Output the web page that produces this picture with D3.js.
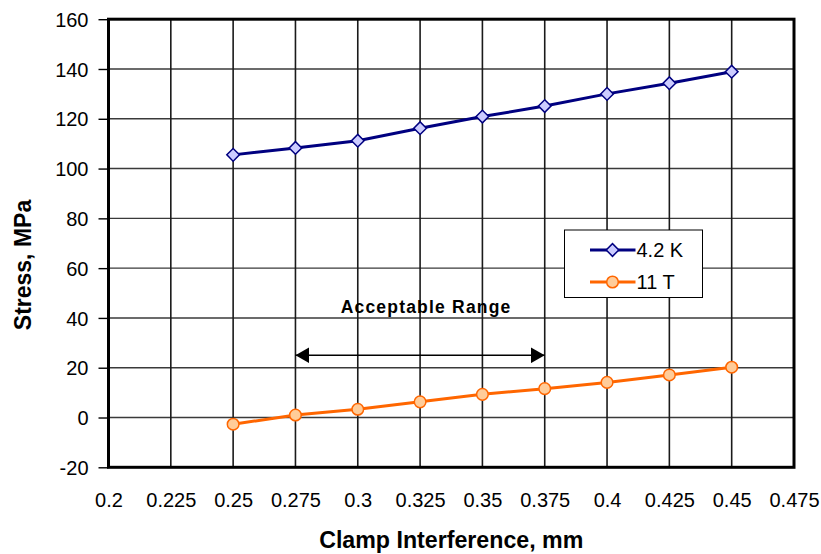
<!DOCTYPE html>
<html>
<head>
<meta charset="utf-8">
<script src="https://cdn.jsdelivr.net/npm/d3@7"></script>
<style>
  html, body { margin: 0; padding: 0; background: #fff; }
  svg { display: block; font-family: "Liberation Sans", Arial, sans-serif; }
</style>
</head>
<body>
<svg id="chart" width="821" height="554"></svg>
<script>
// Clamp interference (mm) vs. stress (MPa)
const interference = [0.25, 0.275, 0.3, 0.325, 0.35, 0.375, 0.4, 0.425, 0.45];
const stress42K = [105.5, 108.3, 111.2, 116.2, 120.9, 125.1, 130.0, 134.3, 138.9];
const stress11T = [-2.7, 1.0, 3.3, 6.3, 9.3, 11.6, 14.1, 17.1, 20.2];
const seriesNames = ["4.2 K", "11 T"];

const xTicks = [0.2, 0.225, 0.25, 0.275, 0.3, 0.325, 0.35, 0.375, 0.4, 0.425, 0.45, 0.475];
const xTickLabels = ["0.2", "0.225", "0.25", "0.275", "0.3", "0.325", "0.35", "0.375", "0.4", "0.425", "0.45", "0.475"];
const yTicks = [-20, 0, 20, 40, 60, 80, 100, 120, 140, 160];
const yTickLabels = ["-20", "0", "20", "40", "60", "80", "100", "120", "140", "160"];

// acceptable interference range annotation
const rangeBounds = [0.275, 0.375];
const rangeArrowStress = 25;
const rangeLabel = "Acceptable Range";
const rangeLabelStress = 42;

const xTitle = "Clamp Interference, mm";
const yTitle = "Stress, MPa";

const svg = d3.select("#chart");
const plotLeft = 108.5, plotRight = 794, plotTop = 19.2, plotBottom = 467.3;

const x = d3.scaleLinear().domain([0.2, 0.475]).range([plotLeft, plotRight]);
const y = d3.scaleLinear().domain([-20, 160]).range([plotBottom, plotTop]);

// grid
const grid = svg.append("g");
grid.selectAll("line.h").data(yTicks.slice(1, -1)).join("line")
  .attr("class", "h")
  .attr("x1", plotLeft).attr("x2", plotRight)
  .attr("y1", d => y(d)).attr("y2", d => y(d))
  .attr("stroke", "#3a3a3a").attr("stroke-width", 1.4);
grid.selectAll("line.v").data(xTicks.slice(1, -1)).join("line")
  .attr("class", "v")
  .attr("y1", plotTop).attr("y2", plotBottom)
  .attr("x1", d => x(d)).attr("x2", d => x(d))
  .attr("stroke", "#1a1a1a").attr("stroke-width", 1.6);

// y axis ticks and labels
const yAxis = d3.axisLeft(y).tickValues(yTicks).tickSize(10).tickPadding(10)
  .tickFormat((d, i) => yTickLabels[i]);
const yg = svg.append("g").attr("transform", `translate(${plotLeft},0)`).call(yAxis);
yg.select(".domain").remove();
yg.selectAll(".tick line").attr("stroke", "#000").attr("stroke-width", 1.4);
yg.selectAll(".tick text").attr("font-size", 20).attr("fill", "#000")
  .attr("font-family", "Liberation Sans, Arial, sans-serif").attr("dy", "0.36em");

// x axis labels
const xAxis = d3.axisBottom(x).tickValues(xTicks).tickSize(0).tickPadding(26)
  .tickFormat((d, i) => xTickLabels[i]);
const xg = svg.append("g").attr("transform", `translate(0,${plotBottom})`).call(xAxis);
xg.select(".domain").remove();
xg.selectAll(".tick text").attr("font-size", 20).attr("fill", "#000")
  .attr("font-family", "Liberation Sans, Arial, sans-serif");

// plot border
svg.append("rect")
  .attr("x", plotLeft).attr("y", plotTop)
  .attr("width", plotRight - plotLeft).attr("height", plotBottom - plotTop)
  .attr("fill", "none").attr("stroke", "#000").attr("stroke-width", 3);

// series
const line = d3.line().x(d => x(d[0])).y(d => y(d[1]));
const pts42 = interference.map((v, i) => [v, stress42K[i]]);
const pts11 = interference.map((v, i) => [v, stress11T[i]]);

const navy = "#000080", orange = "#ff6600";
const diamond = d3.symbol().type(d3.symbolSquare).size(80);

svg.append("path").attr("d", line(pts42)).attr("fill", "none")
  .attr("stroke", navy).attr("stroke-width", 3);
svg.append("g").selectAll("path").data(pts42).join("path")
  .attr("d", diamond)
  .attr("transform", d => `translate(${x(d[0])},${y(d[1])}) rotate(45)`)
  .attr("fill", "#ccccff").attr("stroke", navy).attr("stroke-width", 1.5);

svg.append("path").attr("d", line(pts11)).attr("fill", "none")
  .attr("stroke", orange).attr("stroke-width", 3);
svg.append("g").selectAll("circle").data(pts11).join("circle")
  .attr("cx", d => x(d[0])).attr("cy", d => y(d[1])).attr("r", 5.8)
  .attr("fill", "#ffcc99").attr("stroke", orange).attr("stroke-width", 1.5);

// acceptable range arrow
const defs = svg.append("defs");
["start", "end"].forEach(k => {
  defs.append("marker")
    .attr("id", "arrow-" + k)
    .attr("viewBox", "0 0 14 16")
    .attr("refX", k === "end" ? 14 : 0).attr("refY", 8)
    .attr("markerWidth", 14).attr("markerHeight", 16)
    .attr("markerUnits", "userSpaceOnUse")
    .attr("orient", "0")
    .append("path")
    .attr("d", k === "end" ? "M0,0 L14,8 L0,16 Z" : "M14,0 L0,8 L14,16 Z")
    .attr("fill", "#000");
});
svg.append("line")
  .attr("x1", x(rangeBounds[0])).attr("x2", x(rangeBounds[1]))
  .attr("y1", y(rangeArrowStress)).attr("y2", y(rangeArrowStress))
  .attr("stroke", "#000").attr("stroke-width", 1.6)
  .attr("marker-start", "url(#arrow-start)").attr("marker-end", "url(#arrow-end)");
svg.append("text")
  .attr("x", x((rangeBounds[0] + rangeBounds[1]) / 2) + 6)
  .attr("y", y(rangeLabelStress))
  .attr("text-anchor", "middle")
  .attr("font-size", 17.5).attr("font-weight", "bold").attr("letter-spacing", 1.2)
  .text(rangeLabel);

// legend
const lg = svg.append("g").attr("transform", "translate(564.5,230)");
lg.append("rect").attr("width", 138).attr("height", 67.5)
  .attr("fill", "#fff").attr("stroke", "#000").attr("stroke-width", 1);
const legendRows = [
  { name: seriesNames[0], color: navy, y: 20, kind: "diamond" },
  { name: seriesNames[1], color: orange, y: 52, kind: "circle" }
];
legendRows.forEach(r => {
  lg.append("line").attr("x1", 25.5).attr("x2", 71).attr("y1", r.y).attr("y2", r.y)
    .attr("stroke", r.color).attr("stroke-width", 3);
  if (r.kind === "diamond") {
    lg.append("path").attr("d", diamond)
      .attr("transform", `translate(48,${r.y}) rotate(45)`)
      .attr("fill", "#ccccff").attr("stroke", navy).attr("stroke-width", 1.5);
  } else {
    lg.append("circle").attr("cx", 48).attr("cy", r.y).attr("r", 5.8)
      .attr("fill", "#ffcc99").attr("stroke", orange).attr("stroke-width", 1.5);
  }
  lg.append("text").attr("x", 72).attr("y", r.y + 7)
    .attr("font-size", 20).attr("fill", "#000").text(r.name);
});

// axis titles
svg.append("text")
  .attr("x", (plotLeft + plotRight) / 2).attr("y", 548)
  .attr("text-anchor", "middle")
  .attr("font-size", 23.2).attr("font-weight", "bold")
  .text(xTitle);
svg.append("text")
  .attr("transform", "translate(30.5,265) rotate(-90)")
  .attr("text-anchor", "middle")
  .attr("font-size", 23).attr("font-weight", "bold")
  .text(yTitle);
</script>
</body>
</html>
